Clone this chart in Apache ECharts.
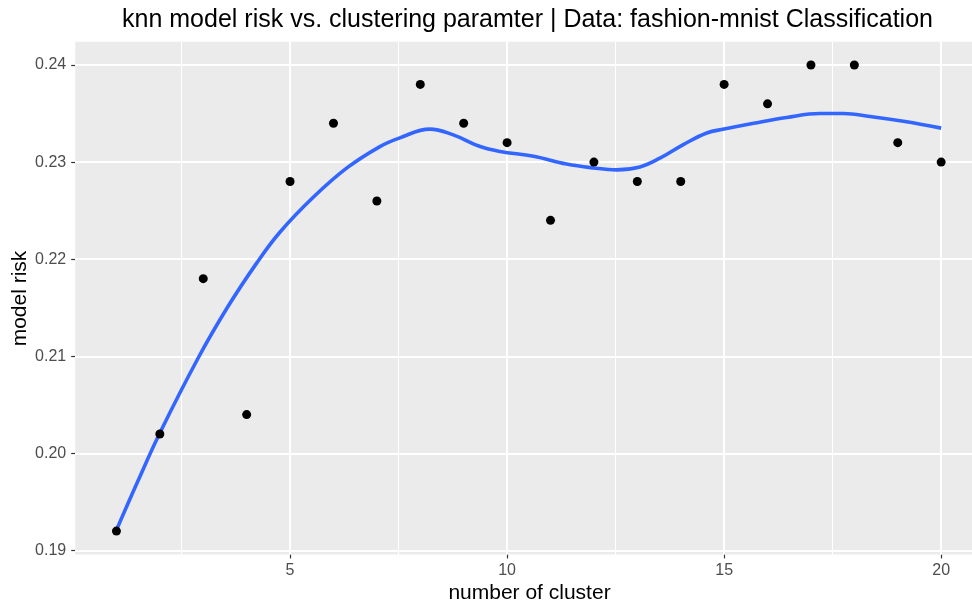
<!DOCTYPE html>
<html>
<head>
<meta charset="utf-8">
<script src="https://cdn.jsdelivr.net/npm/echarts@6/dist/echarts.min.js"></script>
<style>
html,body{margin:0;padding:0;background:#fff;}
#chart{width:972px;height:604px;}
</style>
</head>
<body>
<div id="chart"></div>
<script>
// Observed points
const clusters = [1,2,3,4,5,6,7,8,9,10,11,12,13,14,15,16,17,18,19,20];
const risk = [0.192,0.202,0.218,0.204,0.228,0.234,0.226,0.238,0.234,0.232,0.224,0.230,0.228,0.228,0.238,0.236,0.240,0.240,0.232,0.230];

// Smooth (loess) curve
const smoothX = [1.0,1.5,2.0,2.88,3.58,4.23,4.77,5.54,6.31,7.07,7.53,8.22,8.76,9.38,9.84,10.61,11.37,11.99,12.52,13.06,13.52,14.06,14.6,15.0,15.68,16.44,17.21,17.75,18.36,19.13,20.0];
const smoothY = [0.1921,0.1972,0.2021,0.2098,0.2152,0.2196,0.2228,0.2264,0.2294,0.2316,0.2325,0.2334,0.2328,0.2316,0.2311,0.2306,0.2298,0.2294,0.2292,0.2295,0.2304,0.2318,0.2330,0.2334,0.2340,0.2346,0.2350,0.2350,0.2347,0.2342,0.2335];

// Axis ticks and gridlines
const xTicks = [5,10,15,20];
const xMinor = [2.5,7.5,12.5,17.5];
const yTicks = [0.19,0.20,0.21,0.22,0.23,0.24];
const yMinor = [0.195,0.205,0.215,0.225,0.235];

const titleText = 'knn model risk vs. clustering paramter | Data: fashion-mnist Classification';
const xTitle = 'number of cluster';
const yTitle = 'model risk';

const FONT = '"Liberation Sans", Arial, Helvetica, sans-serif';
const chart = echarts.init(document.getElementById('chart'), null, {renderer:'canvas'});

const gridLines = [];
xMinor.forEach(v => gridLines.push({xAxis: v, lineStyle:{width:1}}));
yMinor.forEach(v => gridLines.push({yAxis: v, lineStyle:{width:1}}));
xTicks.forEach(v => gridLines.push({xAxis: v, lineStyle:{width:2}}));
yTicks.forEach(v => gridLines.push({yAxis: v, lineStyle:{width:2}}));

const option = {
  animation: false,
  backgroundColor: '#ffffff',
  grid: {
    left: 75.2, width: 907.2, top: 41.7, height: 512.7,
    show: true, backgroundColor: '#EBEBEB', borderWidth: 0,
    containLabel: false, outerBoundsMode: 'none'
  },
  xAxis: {
    type: 'value', min: 0.05, max: 20.95,
    axisLine: {show: false},
    axisTick: {show: true, length: 4, lineStyle: {color: '#333333', width: 1.2}, customValues: xTicks},
    axisLabel: {show: true, customValues: xTicks, color: '#4D4D4D', fontSize: 16, fontFamily: FONT, margin: 8,
      formatter: v => String(Math.round(v))},
    splitLine: {show: false}, minorSplitLine: {show: false}
  },
  yAxis: {
    type: 'value', min: 0.1896, max: 0.2424,
    axisLine: {show: false},
    axisTick: {show: true, length: 4, lineStyle: {color: '#333333', width: 1.2}, customValues: yTicks},
    axisLabel: {show: true, customValues: yTicks, color: '#4D4D4D', fontSize: 16, fontFamily: FONT, margin: 9,
      formatter: v => v.toFixed(2)},
    splitLine: {show: false}, minorSplitLine: {show: false}
  },
  graphic: [
    {type:'text', x: 527.5, y: 20, z: 10, style:{text: titleText, font: '25px ' + FONT, fill:'#000', textAlign:'center', textVerticalAlign:'middle'}},
    {type:'text', x: 529.5, y: 593, z: 10, style:{text: xTitle, font: '21px ' + FONT, fill:'#000', textAlign:'center', textVerticalAlign:'middle'}},
    {type:'text', x: 20, y: 298.5, rotation: Math.PI/2, z: 10, style:{text: yTitle, font: '21px ' + FONT, fill:'#000', textAlign:'center', textVerticalAlign:'middle'}}
  ],
  series: [
    {
      type: 'scatter', data: [], z: 1, silent: true,
      markLine: {
        z: 1, silent: true, symbol: ['none','none'], animation: false,
        label: {show: false},
        lineStyle: {color: '#ffffff', type: 'solid'},
        emphasis: {disabled: true},
        data: gridLines
      }
    },
    {
      type: 'line', z: 3, smooth: 0.4, showSymbol: false, symbol: 'none',
      data: smoothX.map((x, i) => [x, smoothY[i]]),
      lineStyle: {color: '#3366FF', width: 3.6},
      silent: true
    },
    {
      type: 'scatter', z: 4, symbolSize: 9,
      data: clusters.map((x, i) => [x, risk[i]]),
      itemStyle: {color: '#000000', opacity: 1},
      silent: true
    }
  ]
};
chart.setOption(option);
</script>
</body>
</html>
